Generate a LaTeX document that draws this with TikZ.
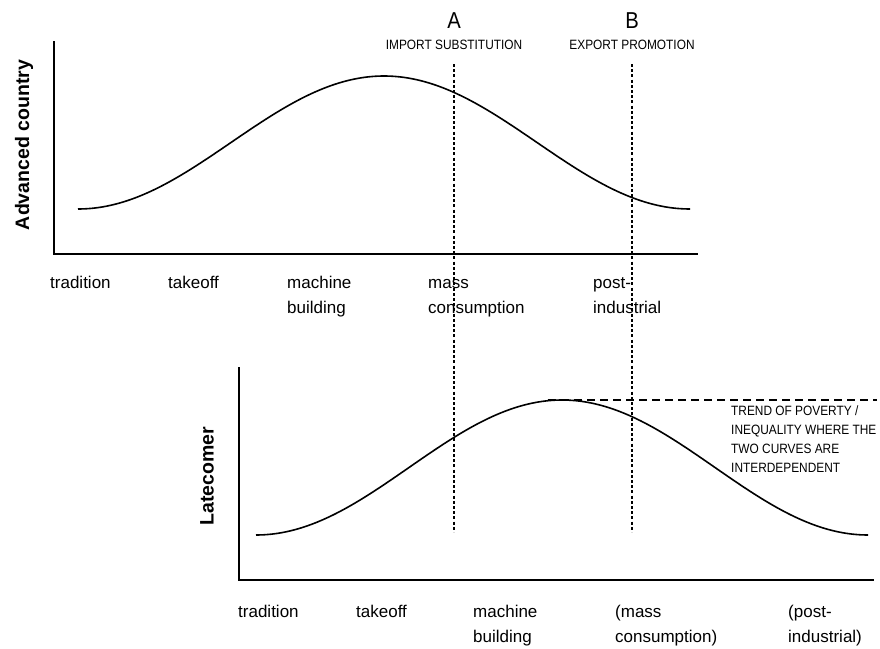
\documentclass[tikz,border=0pt]{standalone}
\usepackage{fontspec}
\setmainfont{Liberation Sans}
\newfontfamily\narrowsans{Liberation Sans}[FakeStretch=0.88]
\usetikzlibrary{positioning}

\tikzstyle{axis} = [draw=black, line width=2pt]
\tikzstyle{curve} = [draw=black, line width=1.6pt]
\tikzstyle{marker} = [draw=black, line width=1.5pt, dash pattern=on 3pt off 2.2pt]
\tikzstyle{trend} = [draw=black, line width=1.5pt, dash pattern=on 8pt off 5pt]
\tikzstyle{stage} = [inner sep=0pt, anchor=north west, align=left, font=\fontsize{17}{25}\selectfont]
\tikzstyle{country} = [inner sep=0pt, rotate=90, font=\bfseries\fontsize{19.5}{22}\selectfont]
\tikzstyle{policy} = [inner sep=0pt, font=\narrowsans\fontsize{13.5}{19}\selectfont]
\tikzstyle{letter} = [inner sep=0pt, font=\narrowsans\fontsize{23}{24}\selectfont]

\begin{document}
\begin{tikzpicture}[x=1pt, y=-1pt]
\useasboundingbox (0,0) rectangle (880,648);

% axes =============================
\coordinate (advtop) at (54,41);
\coordinate (advend) at (698,254);
\coordinate (latetop) at (239,367);
\coordinate (lateend) at (874,580);
\draw[axis] (advtop) |- (advend);
\draw[axis] (latetop) |- (lateend);

% country labels
\node[country] (adv) at (24,145) {Advanced country};
\node[country] (late) at (207,476) {Latecomer};

% curves
\draw[curve] plot[domain=78:690, samples=120, smooth] (\x, {142.5-66.5*cos(((\x-384)/612)*360)});
\draw[curve] plot[domain=256:868, samples=120, smooth] (\x, {467.5-67.5*cos(((\x-562)/612)*360)});

% stages, advanced country
\node[stage] (tradA) at (50,270.5) {\strut tradition};
\node[stage] (takeA) at (168,270.5) {\strut takeoff};
\node[stage] (machA) at (287,270.5) {\strut machine\\building};
\node[stage] (massA) at (428,270.5) {\strut mass\\consumption};
\node[stage] (postA) at (593,270.5) {\strut post-\\industrial};

% stages, latecomer
\node[stage] (tradL) at (238,599.5) {\strut tradition};
\node[stage] (takeL) at (356,599.5) {\strut takeoff};
\node[stage] (machL) at (473,599.5) {\strut machine\\building};
\node[stage] (massL) at (615,599.5) {\strut (mass\\consumption)};
\node[stage] (postL) at (788,599.5) {\strut (post-\\industrial)};

% policies
\node[letter] (A) at (454,21) {A};
\node[policy, below=10.5pt of A] (imp) {IMPORT SUBSTITUTION};
\node[letter] (B) at (632,21) {B};
\node[policy, below=10.5pt of B] (exp) {EXPORT PROMOTION};

% trend of poverty
\node[policy, anchor=north west, align=left] (trendtxt) at (731,406) {TREND OF POVERTY /\\INEQUALITY WHERE THE\\TWO CURVES ARE\\INTERDEPENDENT};

% dashed markers
\coordinate (atop) at (454,64);
\coordinate (abot) at (454,532);
\coordinate (btop) at (632,64);
\coordinate (bbot) at (632,532);
\coordinate (peak) at (548,400);
\coordinate (peakend) at (877,400);
\path[marker] (atop) -- (abot);
\path[marker] (btop) -- (bbot);
\path[trend] (peak) -- (peakend);

\end{tikzpicture}
\end{document}
